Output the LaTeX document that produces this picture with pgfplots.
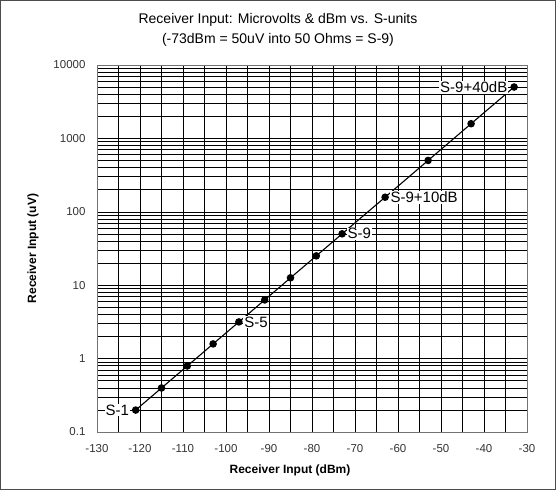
\documentclass[border=0pt]{standalone}
\usepackage{pgfplots}
\pgfplotsset{compat=1.18}
\usepackage{fontspec}
\setmainfont{Liberation Sans}
\begin{document}
\begin{tikzpicture}[x=1pt,y=1pt]
\draw[draw=black!70, line width=1pt] (0.5,0.5) rectangle (555.5,489.5);
\begin{axis}[
  at={(97pt,58pt)}, anchor=south west,
  scale only axis, width=430pt, height=367pt,
  xmin=-130, xmax=-30, ymode=log, ymin=0.1, ymax=10000,
  xtick={-130,-120,...,-30},
  minor x tick num=1,
  ytick={0.1,1,10,100,1000,10000},
  yticklabels={0.1,1,10,100,1000,10000},
  minor ytick={0.2,0.3,0.4,0.5,0.6,0.7,0.8,0.9,2,3,4,5,6,7,8,9,20,30,40,50,60,70,80,90,200,300,400,500,600,700,800,900,2000,3000,4000,5000,6000,7000,8000,9000},
  grid=both,
  major grid style={black, line width=0.6pt},
  minor grid style={black, line width=0.6pt},
  axis line style={black!55, line width=0.8pt},
  tick style={draw=none},
  tick label style={font=\fontsize{11.5}{13}\selectfont, text=black!80},
  /pgf/number format/assume math mode=true,
  xticklabel style={yshift=-9pt},
  yticklabel style={xshift=-8pt},
  xlabel={\bfseries Receiver Input (dBm)},
  ylabel={\bfseries Receiver Input (uV)},
  label style={font=\fontsize{12}{14}\selectfont},
  xlabel style={at={(axis description cs:0.5,-0.104)}, anchor=center, xshift=-22pt},
  ylabel style={at={(axis description cs:-0.149,0.5)}, anchor=center},
  title style={font=\fontsize{14}{20}\selectfont, align=center, at={(axis description cs:0.5,1)}, anchor=center, yshift=29pt, xshift=-34pt},
  title={Receiver Input: Microvolts \& dBm vs. S-units\\(-73dBm = 50uV into 50 Ohms = S-9)},
  clip=false,
]
\addplot[black, line width=1.1pt, mark=*, mark size=3.2pt] coordinates {
  (-121,0.199) (-115,0.398) (-109,0.794) (-103,1.585) (-97,3.16)
  (-91,6.30) (-85,12.6) (-79,25.1) (-73,50.1) (-63,158)
  (-53,501) (-43,1585) (-33,5012)
};
\begin{scope}[every node/.style={fill=white, inner sep=1pt, font=\fontsize{15}{17}\selectfont}]
\node[anchor=east] at (axis cs:-122.3,0.199) {S-1};
\node[anchor=west] at (axis cs:-96,3.16) {S-5};
\node[anchor=west] at (axis cs:-72,50.1) {S-9};
\node[anchor=west] at (axis cs:-62,158) {S-9+10dB};
\node[anchor=east] at (axis cs:-34.3,5012) {S-9+40dB};
\end{scope}
\end{axis}
\end{tikzpicture}
\end{document}
